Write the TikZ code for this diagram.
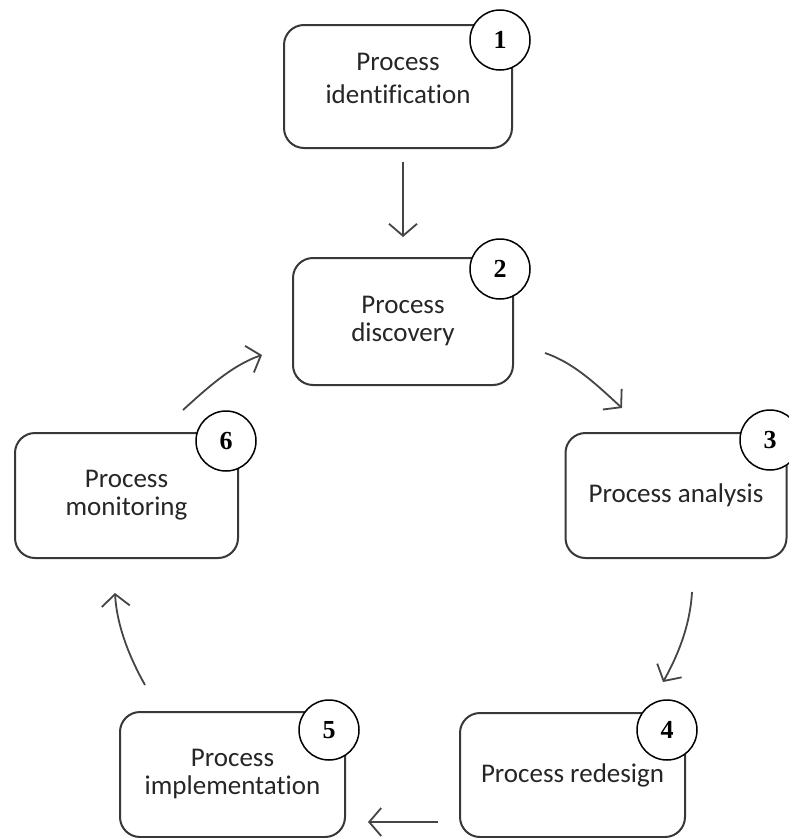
\documentclass[tikz,border=0pt]{standalone}
\usepackage{fontspec}
\setmainfont[RawFeature={-liga;-clig}]{Carlito}
\newfontfamily\numfont{Liberation Serif}
\usetikzlibrary{arrows.meta}
\definecolor{boxline}{HTML}{383838}
\definecolor{textgray}{HTML}{262626}
\definecolor{arrowgray}{HTML}{454545}
\begin{document}
\begin{tikzpicture}[x=1pt,y=-1pt,
  stage/.style={draw=boxline, line width=2pt, rounded corners=20pt, fill=white,
    align=center, text=textgray, inner sep=0pt},
  badge/.style={circle, draw=black, line width=1.5pt, fill=white,
    minimum size=60pt, inner sep=0pt,
    font=\numfont\bfseries\fontsize{26}{26}\selectfont},
  flow/.style={draw=arrowgray, line width=1.8pt,
    -{Straight Barb[length=12pt,width=28pt]}}
]
\fill[white] (0,0) rectangle (788,838);
\useasboundingbox (0,0) rectangle (788,838);

% the six stages of the cycle
\node[stage, minimum width=228pt, minimum height=123pt, text depth=16pt,
      font=\fontsize{27}{33}\selectfont] (s1) at (398,86.5) {Process\\identification};
\node[stage, minimum width=220pt, minimum height=127pt,
      font=\fontsize{27}{28}\selectfont] (s2) at (403,321.5) {Process\\discovery};
\node[stage, minimum width=221pt, minimum height=125pt,
      font=\fontsize{27}{28}\selectfont] (s3) at (676,495.5) {Process analysis};
\node[stage, minimum width=225pt, minimum height=124pt,
      font=\fontsize{27}{28}\selectfont] (s4) at (572.5,775) {Process redesign};
\node[stage, minimum width=225pt, minimum height=125pt,
      font=\fontsize{27}{28}\selectfont] (s5) at (232.5,774.5) {Process\\implementation};
\node[stage, minimum width=223pt, minimum height=125pt,
      font=\fontsize{27}{28}\selectfont] (s6) at (126.5,495.5) {Process\\monitoring};

% numbered badges on the top right corners
\node[badge] (n1) at (500,40) {1};
\node[badge] (n2) at (500,269) {2};
\node[badge] (n3) at (770,440) {3};
\node[badge] (n4) at (667,730) {4};
\node[badge] (n5) at (329,730) {5};
\node[badge] (n6) at (226,441) {6};

% end points of the arrows between the stages
\coordinate (a12s) at (403,162);
\coordinate (a12e) at (403,237);
\coordinate (a23s) at (545,353);
\coordinate (a23e) at (622,408);
\coordinate (a34s) at (692,592);
\coordinate (a34e) at (663,682);
\coordinate (a45s) at (438,822);
\coordinate (a45e) at (368,822);
\coordinate (a56s) at (145,685);
\coordinate (a56e) at (115,593);
\coordinate (a62s) at (183,410);
\coordinate (a62e) at (262,355);

\draw[flow] (a12s) -- (a12e);
\draw[flow] (a23s) .. controls +(30,10) and +(-22,-20) .. (a23e);
\draw[flow] (a34s) .. controls +(-2,35) and +(14,-25) .. (a34e);
\draw[flow] (a45s) -- (a45e);
\draw[flow] (a56s) .. controls +(-14,-25) and +(2,35) .. (a56e);
\draw[flow] (a62s) .. controls +(22,-20) and +(-30,10) .. (a62e);
\end{tikzpicture}
\end{document}
